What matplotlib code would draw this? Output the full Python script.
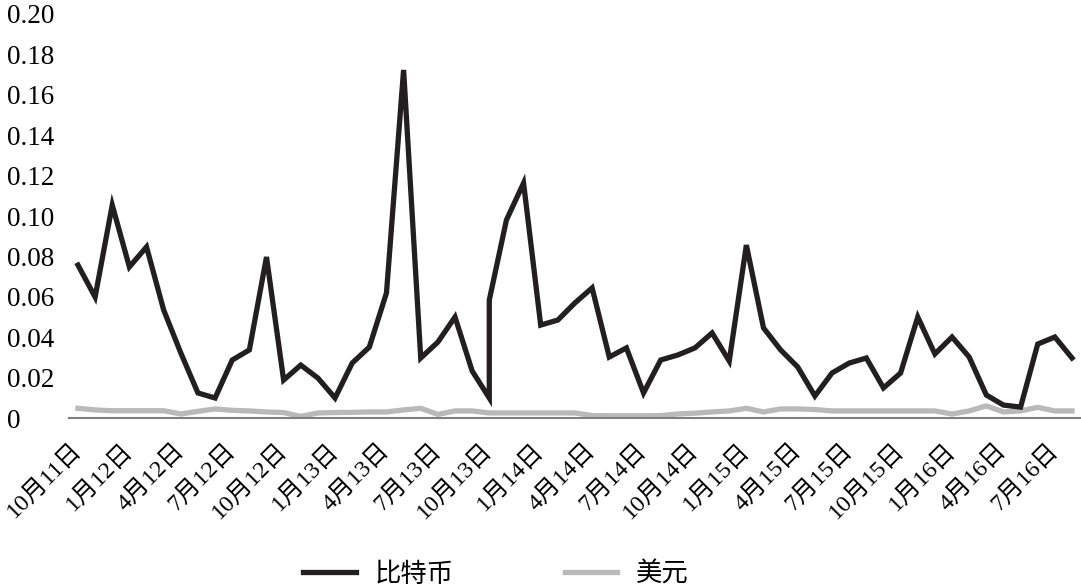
import numpy as np
import matplotlib
matplotlib.use("Agg")
import matplotlib.pyplot as plt

plt.rcParams['font.family'] = ['Liberation Serif', 'Noto Sans CJK SC', 'DejaVu Sans']

# quarterly tick labels (monthly data, Oct 2011 - Aug 2016)
tick_labels = ['10月11日', '1月12日', '4月12日', '7月12日', '10月12日', '1月13日',
               '4月13日', '7月13日', '10月13日', '1月14日', '4月14日', '7月14日',
               '10月14日', '1月15日', '4月15日', '7月15日', '10月15日', '1月16日',
               '4月16日', '7月16日']

# bitcoin: Oct 2013 (month 24) has two readings, drawn as a vertical jump
btc_month = list(range(25)) + list(range(24, 59))
btc = [0.0757, 0.0599, 0.1054, 0.0748, 0.0847, 0.0535, 0.0322, 0.0124, 0.0099, 0.0287,
       0.0337, 0.0797, 0.0188, 0.0262, 0.0198, 0.0099, 0.0272, 0.0351, 0.0619, 0.1723,
       0.0297, 0.0376, 0.0500, 0.0233, 0.0099, 0.0584, 0.0980, 0.1163, 0.0460, 0.0485,
       0.0570, 0.0644, 0.0302, 0.0347, 0.0124, 0.0287, 0.0312, 0.0347, 0.0421, 0.0282,
       0.0856, 0.0446, 0.0337, 0.0252, 0.0109, 0.0223, 0.0272, 0.0297, 0.0149, 0.0223,
       0.0500, 0.0317, 0.0401, 0.0302, 0.0114, 0.0064, 0.0054, 0.0366, 0.0401, 0.0297]

usd = [0.0048, 0.0040, 0.0036, 0.0036, 0.0036, 0.0036, 0.0020, 0.0033, 0.0045, 0.0038,
       0.0035, 0.0030, 0.0027, 0.0008, 0.0025, 0.0027, 0.0028, 0.0030, 0.0030, 0.0040,
       0.0048, 0.0018, 0.0035, 0.0035, 0.0025, 0.0025, 0.0025, 0.0025, 0.0025, 0.0025,
       0.0012, 0.0011, 0.0011, 0.0011, 0.0012, 0.0020, 0.0024, 0.0030, 0.0035, 0.0048,
       0.0030, 0.0045, 0.0045, 0.0042, 0.0035, 0.0035, 0.0035, 0.0035, 0.0035, 0.0035,
       0.0035, 0.0020, 0.0035, 0.0060, 0.0030, 0.0035, 0.0053, 0.0035, 0.0035]
usd_month = list(range(len(usd)))

fig = plt.figure(figsize=(10.81, 5.88), dpi=100)
ax = fig.add_axes([0.0642, 0.2891, 0.9354, 0.6871])

ax.plot(btc_month, btc, color='#231f20', lw=3.8, solid_joinstyle='miter', label='比特币',
        zorder=3, clip_on=False)
ax.plot(usd_month, usd, color='#b9b9b9', lw=3.8, label='美元', zorder=2)

ax.set_xlim(-0.5, 58.5)
ax.set_ylim(0, 0.20)

yt = np.arange(0, 0.201, 0.02)
ax.set_yticks(yt)
ax.set_yticklabels(['0'] + ['%.2f' % v for v in yt[1:]], fontsize=19.5)
for lab in ax.get_yticklabels():
    lab.set_ha('left')
ax.tick_params(axis='y', length=0, pad=44.6)

ax.set_xticks(range(0, 59, 3))
ax.set_xticklabels(tick_labels, fontsize=17.5, rotation=45, ha='right', va='center',
                   rotation_mode='anchor')
ax.tick_params(axis='x', length=0, pad=21)

for s in ['left', 'right', 'top']:
    ax.spines[s].set_visible(False)
ax.spines['bottom'].set_color('#7f7f7f')
ax.spines['bottom'].set_linewidth(1.5)

fig.legend(loc='center', bbox_to_anchor=(496 / 1081, 1 - 574 / 588), ncol=2,
           frameon=False, fontsize=19, handlelength=2.0, handletextpad=0.7,
           columnspacing=4.2)

fig.savefig('out.png', dpi=100)
